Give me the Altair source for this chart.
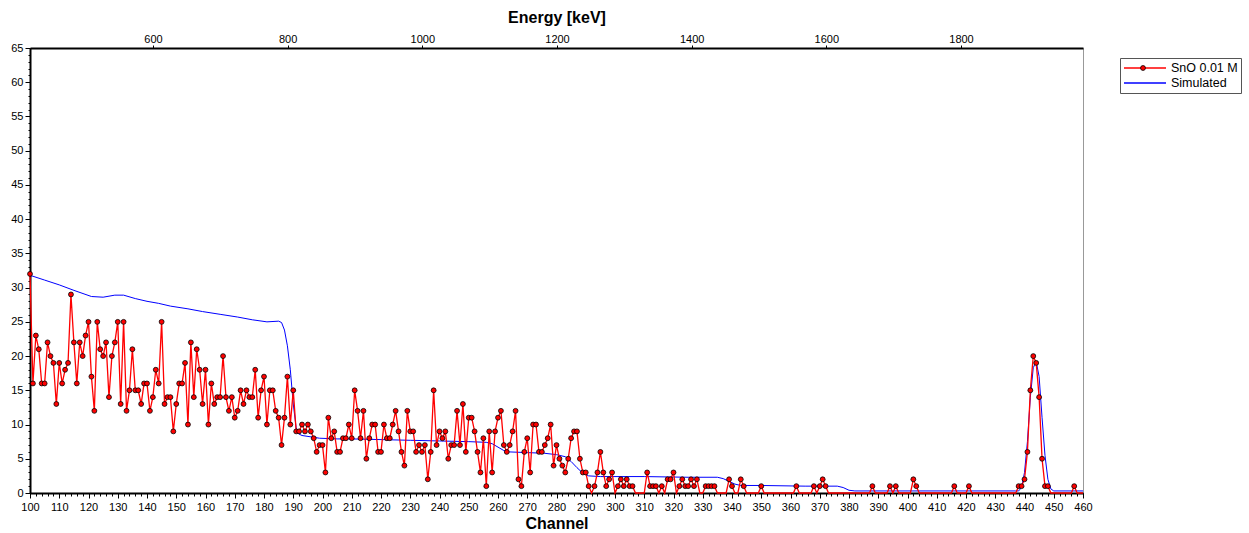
import altair as alt
import pandas as pd

# ---------------- data ----------------
channels = list(range(100, 461))
counts = [
    32, 16, 23, 21, 16, 16, 22, 20, 19, 13,   # 100-109
    19, 16, 18, 19, 29, 22, 16, 22, 20, 23,   # 110-119
    25, 17, 12, 25, 21, 20, 22, 14, 20, 22,   # 120-129
    25, 13, 25, 12, 15, 21, 15, 15, 13, 16,   # 130-139
    16, 12, 14, 18, 16, 25, 13, 14, 14, 9,    # 140-149
    13, 16, 16, 19, 10, 22, 14, 21, 18, 13,   # 150-159
    18, 10, 16, 13, 14, 14, 20, 14, 12, 14,   # 160-169
    11, 12, 15, 13, 15, 14, 14, 18, 11, 15,   # 170-179
    17, 10, 15, 15, 12, 11, 7, 11, 17, 10,    # 180-189
    15, 9, 9, 10, 9, 10, 9, 8, 6, 7,          # 190-199
    7, 3, 11, 8, 9, 6, 6, 8, 8, 10,           # 200-209
    8, 15, 12, 8, 12, 5, 8, 10, 10, 6,        # 210-219
    6, 10, 8, 8, 10, 12, 9, 6, 4, 12,         # 220-229
    9, 9, 6, 7, 6, 7, 2, 6, 15, 7,            # 230-239
    9, 8, 9, 5, 7, 7, 12, 7, 13, 6,           # 240-249
    11, 11, 9, 6, 3, 8, 1, 9, 3, 9,           # 250-259
    11, 12, 7, 6, 7, 9, 12, 2, 1, 6,          # 260-269
    8, 3, 10, 10, 6, 6, 7, 8, 10, 4,          # 270-279
    7, 5, 4, 3, 5, 8, 9, 9, 5, 3,             # 280-289
    3, 1, 0, 1, 3, 6, 3, 1, 2, 3,             # 290-299
    0, 1, 2, 1, 2, 1, 1, 0, 0, 0,             # 300-309
    0, 3, 1, 1, 1, 0, 1, 0, 2, 2,             # 310-319
    3, 0, 1, 2, 1, 1, 2, 1, 2, 0,             # 320-329
    0, 1, 1, 1, 1, 0, 0, 0, 0, 2,             # 330-339
    1, 0, 0, 2, 1, 0, 0, 0, 0, 0,             # 340-349
    1, 0, 0, 0, 0, 0, 0, 0, 0, 0,             # 350-359
    0, 0, 1, 0, 0, 0, 0, 0, 1, 0,             # 360-369
    1, 2, 1, 0, 0, 0, 0, 0, 0, 0,             # 370-379
    0, 0, 0, 0, 0, 0, 0, 0, 1, 0,             # 380-389
    0, 0, 0, 0, 1, 0, 1, 0, 0, 0,             # 390-399
    0, 0, 2, 1, 0, 0, 0, 0, 0, 0,             # 400-409
    0, 0, 0, 0, 0, 0, 1, 0, 0, 0,             # 410-419
    0, 1, 0, 0, 0, 0, 0, 0, 0, 0,             # 420-429
    0, 0, 0, 0, 0, 0, 0, 0, 1, 1,             # 430-439
    2, 6, 15, 20, 19, 14, 5, 1, 1, 0,         # 440-449
    0, 0, 0, 0, 0, 0, 0, 1, 0, 0,             # 450-459
    0,                                        # 460
]

sim_channels = [100, 105, 110, 115, 121, 125, 129, 132, 136, 140,
                144, 148, 154, 159, 165, 171, 176, 181, 185, 186,
                187, 188, 189, 190, 191, 192, 193, 199, 205, 210,
                220, 230, 240, 250, 256, 258, 260, 262, 264, 270,
                276, 280, 283, 285, 287, 289, 291, 295, 310, 325,
                335, 337, 339, 341, 343, 350, 365, 376, 378, 380,
                382, 437, 438, 439, 440, 441, 442, 443, 444, 445,
                446, 447, 448, 449, 450, 460]
sim_values = [31.8, 31.1, 30.4, 29.6, 28.7, 28.6, 28.9, 28.9, 28.4, 28.0,
              27.7, 27.3, 26.9, 26.5, 26.1, 25.7, 25.3, 25.0, 25.1, 24.9,
              23.8, 21.5, 18.0, 13.0, 9.5, 8.6, 8.4, 8.0, 7.9, 7.9,
              7.8, 7.7, 7.6, 7.5, 7.4, 7.2, 6.7, 6.2, 6.0, 5.9,
              5.8, 5.6, 5.3, 4.6, 3.7, 2.9, 2.5, 2.4, 2.4, 2.3,
              2.3, 2.1, 1.7, 1.3, 1.1, 1.1, 1.0, 1.0, 0.8, 0.4,
              0.3, 0.3, 0.3, 0.8, 3.0, 7.5, 14.0, 18.3, 19.2, 17.0,
              11.0, 5.5, 2.0, 0.6, 0.3, 0.3]

series_names = ["SnO 0.01 M", "Simulated"]
series_colors = ["#ff0000", "#0000ff"]

channel_domain = [100, 460]
count_domain = [0, 65]
energy_domain = [417.3, 1981.2]
channel_ticks = list(range(100, 461, 10))
channel_minor_ticks = list(range(100, 461, 2))
count_ticks = list(range(0, 66, 5))
count_minor_ticks = list(range(0, 66, 1))
energy_ticks = [600, 800, 1000, 1200, 1400, 1600, 1800]

FONT = "Liberation Sans"

# ---------------- tables ----------------
meas_df = pd.DataFrame({"channel": channels, "counts": counts, "series": series_names[0]})
pts_df = meas_df[meas_df["counts"] > 0]
sim_df = pd.DataFrame({"channel": sim_channels, "counts": sim_values, "series": series_names[1]})
frame_df = pd.DataFrame({"channel": channel_domain, "counts": count_domain})
energy_df = pd.DataFrame({"energy": energy_domain})

xscale = alt.Scale(domain=channel_domain, nice=False, zero=False)
yscale = alt.Scale(domain=count_domain, nice=False, zero=False)
stroke_scale = alt.Scale(domain=series_names, range=series_colors)

stroke_legend = alt.Legend(
    title=None, orient="none", legendX=1090, legendY=10,
    symbolType="stroke", symbolSize=1764, symbolStrokeWidth=1.3,
    clipHeight=14, labelFont=FONT, labelFontSize=12.5, labelColor="black",
    padding=3, strokeColor="#555555", fillColor="white", labelOffset=4,
    rowPadding=1, zindex=1,
)
fill_legend = alt.Legend(
    title=None, orient="none", legendX=1110, legendY=17,
    symbolType="circle", symbolSize=24, symbolStrokeColor="black",
    symbolStrokeWidth=0.8, labelOpacity=0, labelFontSize=1, padding=0,
    zindex=2,
)

x_major = alt.Axis(
    orient="bottom", values=channel_ticks, title="Channel", titleFont=FONT,
    titleFontSize=16, titleFontWeight="bold", titleColor="black",
    labelFont=FONT, labelFontSize=11, labelColor="black", tickSize=5,
    tickColor="black", domainColor="black", domainWidth=2, grid=False,
    labelPadding=3, titlePadding=3, labelFlush=False,
)
y_major = alt.Axis(
    orient="left", values=count_ticks, title=None, labelFont=FONT,
    labelFontSize=11, labelColor="black", tickSize=5, tickColor="black",
    domainColor="black", domainWidth=2, grid=False, labelPadding=2,
)
x_minor = alt.Axis(
    orient="bottom", values=channel_minor_ticks, labels=False, domain=False,
    tickSize=3, tickColor="black", title=None, grid=False,
)
y_minor = alt.Axis(
    orient="left", values=count_minor_ticks, labels=False, domain=False,
    tickSize=2, tickColor="black", title=None, grid=False,
)

sim_line = alt.Chart(sim_df).mark_line(strokeWidth=1.0).encode(
    x=alt.X("channel:Q", scale=xscale, axis=None),
    y=alt.Y("counts:Q", scale=yscale, axis=None),
    stroke=alt.Stroke("series:N", scale=stroke_scale, legend=stroke_legend),
)
meas_line = alt.Chart(meas_df).mark_line(strokeWidth=1.3).encode(
    x=alt.X("channel:Q", scale=xscale, axis=x_major),
    y=alt.Y("counts:Q", scale=yscale, axis=y_major),
    stroke=alt.Stroke("series:N", scale=stroke_scale, legend=stroke_legend),
)
meas_pts = alt.Chart(pts_df).mark_point(
    shape="circle", filled=True, size=24, stroke="black", strokeWidth=0.8, opacity=1
).encode(
    x=alt.X("channel:Q", scale=xscale, axis=None),
    y=alt.Y("counts:Q", scale=yscale, axis=None),
    fill=alt.Fill("series:N", scale=alt.Scale(domain=[series_names[0]], range=[series_colors[0]]),
                  legend=fill_legend),
)
minor = alt.Chart(frame_df).mark_point(opacity=0).encode(
    x=alt.X("channel:Q", scale=xscale, axis=x_minor),
    y=alt.Y("counts:Q", scale=yscale, axis=y_minor),
)

inner = alt.layer(minor, sim_line, meas_line, meas_pts).resolve_axis(x="independent", y="independent")

energy = alt.Chart(energy_df).mark_point(opacity=0).encode(
    x=alt.X("energy:Q", scale=alt.Scale(domain=energy_domain, nice=False, zero=False),
            axis=alt.Axis(orient="top", values=energy_ticks, format="d", title="Energy [keV]",
                          titleFont=FONT, titleFontSize=16, titleFontWeight="bold",
                          titleColor="black", labelFont=FONT, labelFontSize=11,
                          labelColor="black", tickSize=3, tickColor="black",
                          domainColor="black", domainWidth=2, grid=False,
                          labelPadding=1, titlePadding=8)),
)

chart = alt.layer(inner, energy).resolve_scale(x="independent").properties(
    width=1053, height=445,
    padding={"left": 30, "top": 48, "right": 166, "bottom": 40},
    autosize=alt.AutoSizeParams(type="none"),
    background="white",
).configure_view(stroke="#999999", strokeWidth=1)

chart.save("out.html", embed_options={"renderer": "svg", "actions": False})
